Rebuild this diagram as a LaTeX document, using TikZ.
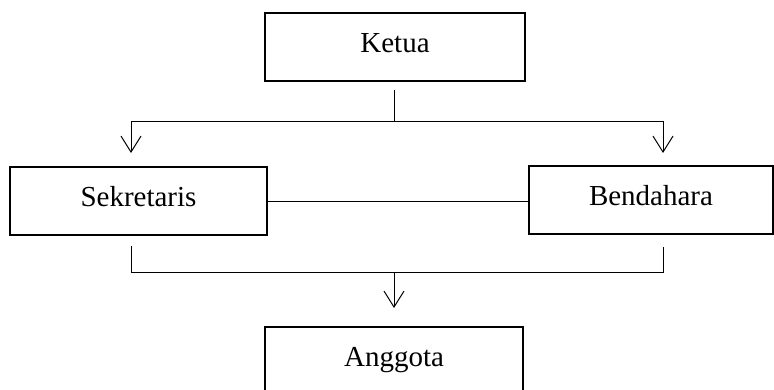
\documentclass[tikz,border=0pt]{standalone}
\usepackage{fontspec}
\setmainfont{Liberation Serif}
\usetikzlibrary{arrows.meta}
\begin{document}
\begin{tikzpicture}[x=1pt,y=-1pt,
  box/.style={draw,line width=2pt,minimum height=68pt,inner sep=0pt,
    font=\fontsize{29}{34}\selectfont,text height=19pt,text depth=9pt},
  conn/.style={line width=1pt},
  arr/.style={conn,-{Straight Barb[length=16pt,width=20pt,line width=1pt]}}]
\useasboundingbox (0,0) rectangle (774,389);
\begin{scope}
\clip (0,0) rectangle (774,389);
\node[box,minimum width=260pt] (ketua) at (395,47) {Ketua};
\node[box,minimum width=257pt] (sek) at (138.5,201) {Sekretaris};
\node[box,minimum width=244pt] (ben) at (651,200) {Bendahara};
\node[box,minimum width=258pt] (ang) at (394,361) {Anggota};
\end{scope}
\coordinate (kt) at (394,90);
\coordinate (jt) at (394,121);
\coordinate (jl) at (131,121);
\coordinate (jr) at (663,121);
\coordinate (sl) at (131,153);
\coordinate (br) at (663,153);
\coordinate (tl) at (131,246);
\coordinate (tr) at (663,247);
\coordinate (bl) at (131,272);
\coordinate (bm) at (394,272);
\coordinate (brr) at (663,272);
\coordinate (at) at (394,308);
\draw[conn] (kt) -- (jt);
\draw[conn] (jl) -- (jr);
\draw[arr] (jl) -- (sl);
\draw[arr] (jr) -- (br);
\draw[conn] (sek.east) -- (sek.east -| ben.west);
\draw[conn] (tl) -- (bl) -- (brr) -- (tr);
\draw[arr] (bm) -- (at);
\end{tikzpicture}
\end{document}
